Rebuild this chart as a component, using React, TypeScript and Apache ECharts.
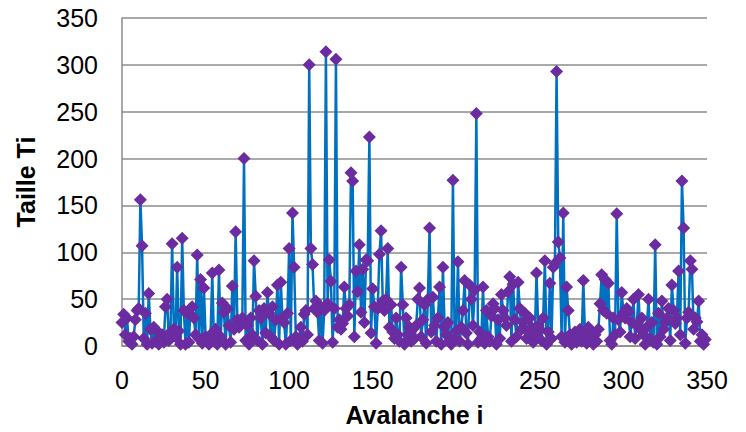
import React, { useEffect, useRef } from "react";
import * as echarts from "echarts";

const xTicks = [0, 50, 100, 150, 200, 250, 300, 350];
const yTicks = [0, 50, 100, 150, 200, 250, 300, 350];

const tailleTi: number[] = [
  25, 34, 12, 30, 5, 8, 2, 10, 28, 38,
  40, 156, 107, 8, 35, 2, 56, 18, 3, 20,
  5, 16, 2, 8, 12, 4, 42, 50, 6, 15,
  109, 18, 10, 84, 16, 2, 115, 38, 2, 35,
  4, 40, 42, 30, 12, 97, 8, 71, 3, 62,
  10, 6, 2, 12, 78, 5, 18, 2, 81, 10,
  46, 36, 2, 40, 22, 4, 64, 18, 122, 28,
  20, 25, 30, 200, 6, 22, 2, 30, 12, 91,
  53, 6, 38, 30, 2, 40, 14, 57, 35, 10,
  42, 6, 28, 65, 2, 68, 30, 25, 2, 35,
  104, 6, 142, 84, 10, 2, 8, 20, 5, 34,
  38, 12, 300, 104, 87, 40, 48, 36, 6, 42,
  3, 38, 314, 45, 92, 69, 4, 40, 306, 20,
  28, 18, 24, 63, 40, 32, 44, 185, 176, 10,
  80, 58, 108, 36, 82, 25, 92, 91, 223, 14,
  61, 42, 3, 40, 98, 123, 48, 38, 50, 104,
  20, 44, 15, 8, 30, 12, 5, 84, 44, 2,
  30, 12, 20, 5, 18, 8, 22, 50, 62, 10,
  28, 44, 3, 50, 126, 15, 52, 22, 5, 30,
  63, 2, 84, 20, 12, 25, 6, 2, 177, 8,
  16, 90, 5, 20, 38, 70, 14, 2, 65, 50,
  22, 60, 248, 4, 15, 8, 63, 3, 38, 10,
  5, 32, 45, 40, 2, 28, 8, 55, 38, 30,
  22, 58, 74, 5, 66, 28, 10, 68, 40, 18,
  25, 35, 8, 15, 30, 20, 4, 12, 78, 22,
  18, 6, 30, 91, 2, 15, 67, 8, 84, 88,
  293, 111, 94, 10, 142, 4, 63, 38, 12, 2,
  8, 15, 4, 10, 18, 5, 70, 12, 3, 20,
  15, 8, 2, 12, 5, 18, 45, 76, 38, 71,
  35, 67, 6, 2, 30, 12, 141, 28, 15, 57,
  35, 30, 40, 36, 10, 25, 50, 8, 22, 55,
  18, 30, 12, 2, 20, 50, 8, 25, 4, 108,
  2, 35, 10, 48, 18, 25, 30, 40, 6, 65,
  38, 24, 30, 80, 12, 176, 126, 3, 30, 36,
  91, 82, 18, 30, 26, 48, 5, 12, 2, 7,
];

const FONT = "Arial, 'Liberation Sans', sans-serif";

export default function App() {
  const ref = useRef<HTMLDivElement>(null);
  useEffect(() => {
    if (!ref.current) return;
    const chart = echarts.init(ref.current, null, { renderer: "svg" });
    const data = tailleTi.map((v, i) => [i, v]);
    chart.setOption({
      animation: false,
      backgroundColor: "#ffffff",
      grid: { left: 122, right: 39, top: 18, bottom: 83, containLabel: false },
      xAxis: {
        type: "value",
        min: xTicks[0],
        max: xTicks[xTicks.length - 1],
        interval: 50,
        name: "Avalanche i",
        nameLocation: "middle",
        nameGap: 56,
        nameTextStyle: { fontFamily: FONT, fontSize: 25, fontWeight: "bold", color: "#000" },
        axisLine: { show: true, lineStyle: { color: "#8c8c8c", width: 1.5 } },
        axisTick: { show: false },
        splitLine: { show: false },
        axisLabel: { fontFamily: FONT, fontSize: 25, color: "#000", margin: 21 },
      },
      yAxis: {
        type: "value",
        min: yTicks[0],
        max: yTicks[yTicks.length - 1],
        interval: 50,
        name: "Taille Ti",
        nameLocation: "middle",
        nameRotate: 90,
        nameGap: 84,
        nameTextStyle: { fontFamily: FONT, fontSize: 25, fontWeight: "bold", color: "#000" },
        axisLine: { show: true, lineStyle: { color: "#8c8c8c", width: 1.5 } },
        axisTick: { show: false },
        splitLine: { show: true, lineStyle: { color: "#8c8c8c", width: 1.5 } },
        axisLabel: { fontFamily: FONT, fontSize: 25, color: "#000", margin: 24 },
      },
      series: [
        {
          type: "line",
          data,
          symbol: "diamond",
          symbolSize: 13,
          showAllSymbol: true,
          lineStyle: { color: "#0070C0", width: 2.5 },
          itemStyle: { color: "#6A2CA0", borderWidth: 0 },
          z: 3,
        },
      ],
    });
    return () => chart.dispose();
  }, []);
  return (
    <div
      ref={ref}
      style={{ position: "fixed", left: 0, top: 0, width: 746, height: 432 }}
    />
  );
}
